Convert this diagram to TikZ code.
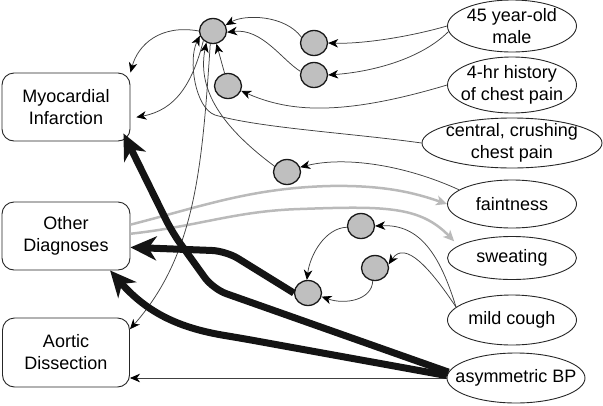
\documentclass[tikz,border=0pt]{standalone}
\usepackage{fontspec}
\setmainfont{Liberation Sans}
\usetikzlibrary{shapes.geometric,arrows.meta}
\begin{document}
\begin{tikzpicture}[x=1pt,y=-1pt,
  box/.style={draw=black!85, line width=0.9pt, rounded corners=12pt, minimum width=128pt, minimum height=68pt, inner sep=0pt, align=center, font=\fontsize{18}{22}\selectfont},
  oval/.style={draw=black!85, line width=0.9pt, ellipse, inner sep=-20pt, align=center, font=\fontsize{18}{22}\selectfont},
  dot/.style={draw=black!90, line width=1.3pt, ellipse, fill=black!25, minimum width=27pt, minimum height=25pt, inner sep=0pt},
  thinarrow/.style={draw=black!75, line width=0.75pt, -{Stealth[length=10pt,width=8.5pt,inset=3pt,color=black]}},
  heavyarrow/.style={draw=black!92, line width=7pt, rounded corners=14pt, -{Stealth[length=26pt,width=24pt,inset=8pt]}},
  grayarrow/.style={draw=black!27, line width=2.5pt, -{Stealth[length=11pt,width=10pt,inset=3pt]}}
]
\useasboundingbox (0,0) rectangle (603,405);

% diagnoses
\node[box] (MI) at (66,107) {Myocardial\\Infarction};
\node[box] (OD) at (66,236) {Other\\Diagnoses};
\node[box, minimum width=127pt, minimum height=69pt] (AD) at (66,352.5) {Aortic\\Dissection};

% findings
\node[oval, minimum width=129pt, minimum height=52pt] (e45) at (512,26) {45 year-old\\male};
\node[oval, minimum width=129pt, minimum height=56pt] (e4hr) at (512,85) {4-hr history\\of chest pain};
\node[oval, minimum width=180pt, minimum height=50pt] (ecen) at (512,143) {central, crushing\\chest pain};
\node[oval, minimum width=129pt, minimum height=48pt] (efaint) at (512,204) {faintness};
\node[oval, minimum width=129pt, minimum height=43pt] (esweat) at (512,258) {sweating};
\node[oval, minimum width=129pt, minimum height=50pt] (emc) at (512,320) {mild cough};
\node[oval, minimum width=138pt, minimum height=50pt] (eabp) at (516,378) {asymmetric BP};

% intermediate nodes
\node[dot] (c1) at (213,31) {};
\node[dot] (c2) at (314,43) {};
\node[dot] (c3) at (314,75) {};
\node[dot] (c4) at (228,86) {};
\node[dot] (c5) at (287,172) {};
\node[dot] (c6) at (361,226) {};
\node[dot] (c7) at (375,268) {};
\node[dot] (c8) at (308,293) {};

% gray connectors
\draw[grayarrow] (OD.10) .. controls (200,207) and (250,188) .. (330,186) .. controls (385,185) and (415,193) .. (efaint.west);
\draw[grayarrow, shorten >=6pt] (OD.2) .. controls (200,226) and (235,211) .. (300,209) .. controls (385,206) and (420,206) .. (esweat.167);

% thin connectors
\draw[thinarrow] (e45.west) .. controls (405,38) and (360,44) .. (c2.east);
\draw[thinarrow] (e45.185) .. controls (420,60) and (370,72) .. (c3.east);
\draw[thinarrow] (e4hr.west) .. controls (380,105) and (330,112) .. (290,106) .. controls (270,103) and (255,97) .. (c4.-20);
\draw[thinarrow] (ecen.west) .. controls (350,133) and (260,128) .. (215,115) .. controls (195,108) and (188,60) .. (c1.200);
\draw[thinarrow] (c5.155) .. controls (215,122) and (198,85) .. (c1.240);
\draw[thinarrow] (c2.155) .. controls (285,15) and (245,14) .. (c1.25);
\draw[thinarrow] (c3.165) .. controls (282,60) and (262,28) .. (c1.-5);
\draw[thinarrow] (c4.105) -- (c1.-75);
\draw[thinarrow] (c1.west) .. controls (160,24) and (138,45) .. (MI.north east);
\draw[thinarrow, shorten >=6pt] (c1.225) .. controls (192,85) and (175,110) .. (MI.-10);
\draw[thinarrow] (c1.258) .. controls (202,170) and (195,255) .. (AD.20);
\draw[thinarrow] (efaint.165) .. controls (405,165) and (345,156) .. (c5.20);
\draw[thinarrow] (emc.167) .. controls (440,255) and (420,224) .. (c6.east);
\draw[thinarrow] (emc.167) .. controls (430,268) and (405,240) .. (c7.15);
\draw[thinarrow] (c6.185) .. controls (325,228) and (310,255) .. (c8.95);
\draw[thinarrow] (c7.-100) .. controls (372,300) and (345,305) .. (c8.-15);
\draw[thinarrow] (eabp.west) -- (eabp.west -| AD.east);

% heavy connectors
\draw[heavyarrow] (eabp.175) -- (213,289) -- (172,232) -- ([shift={(-7,-8)}]MI.south east);
\draw[heavyarrow] (c8.west) -- (226,251) -- (OD.-10);
\draw[heavyarrow] (eabp.178) -- (240,338) .. controls (185,329) and (150,316) .. (OD.-38);
\end{tikzpicture}
\end{document}
